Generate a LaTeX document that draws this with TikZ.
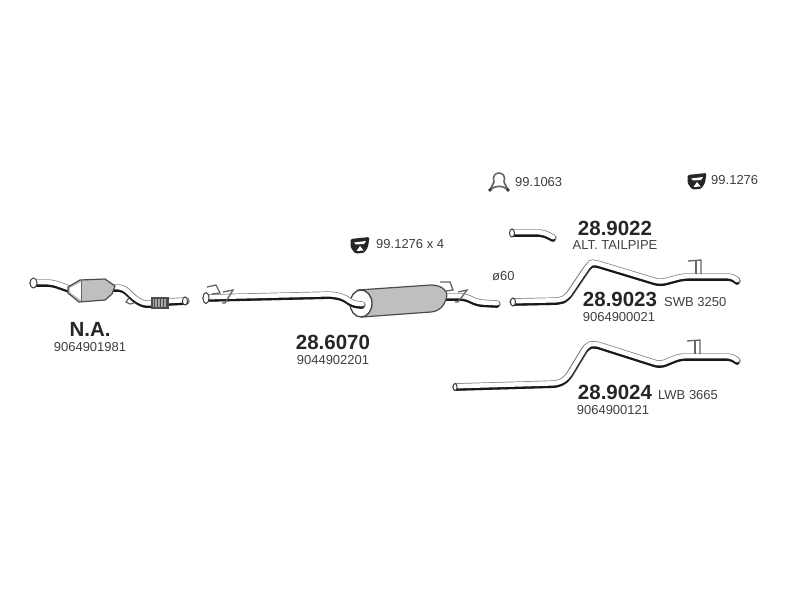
\documentclass[tikz,border=0pt]{standalone}
\usepackage{fontspec}
\setmainfont{Liberation Sans}
\definecolor{edgegray}{gray}{0.5}
\definecolor{bodygray}{gray}{0.75}
\definecolor{labeltext}{gray}{0.25}
\tikzset{
    pipe/.style={line width=7.5pt, draw=edgegray, line cap=round, rounded corners=5pt,
        postaction={draw=black!90, line width=4pt, transform canvas={yshift=-1.8pt}},
        postaction={draw=white, line width=4.5pt, transform canvas={yshift=0.8pt}}},
    thinpart/.style={draw=black!60, line width=1.3pt, fill=none},
    shell/.style={draw=black!70, line width=1.2pt, fill=bodygray},
    partno/.style={font=\fontsize{20.5}{22}\selectfont\bfseries, text=black!85, inner sep=0pt},
    oemno/.style={font=\fontsize{13}{14}\selectfont, text=labeltext, inner sep=0pt},
    flange/.style={draw=black!75, line width=1pt, fill=white}
}
\newcommand{\rubbermount}[1]{
    \begin{scope}[shift={#1}]
        \fill[black!85, rounded corners=1.5pt] (-9.5,-6) -- (9.5,-8) -- (8,2) -- (4,8) -- (-5,8.5) -- (-9.5,2) -- cycle;
        \fill[white] (-6,-2.5) -- (6,-4) -- (4,-1) -- (-4,-0.5) -- cycle;
        \fill[white] (-3.5,6) -- (0,1) -- (3.5,5.5) -- cycle;
    \end{scope}
}
\begin{document}
\begin{tikzpicture}[x=1pt,y=-1pt,node distance=18pt]
    \useasboundingbox (0,0) rectangle (800,600);
    \fill[white] (0,0) rectangle (800,600);

    % catalyst
    \draw[pipe] (33,283) -- (52,283) -- (72,290);
    \draw[pipe] (113,288) -- (123,288) -- (137,301) -- (147,305) -- (156,303);
    \draw[pipe] (166,302) -- (186,301);
    \draw[thinpart] (129,298) -- (126,302) -- (130,304) -- (134,303);
    \draw[shell] (68,287) -- (80,280) -- (105,279) -- (115,286) -- (112,294) -- (105,300) -- (79,302) -- (68,293) -- cycle;
    \fill[white] (70,288) -- (81,282) -- (81,300) -- (70,292) -- cycle;
    \draw[black!60, line width=0.8pt] (81,281) -- (81,301);
    \draw[shell, fill=black!35] (152,298) rectangle (168,308);
    \foreach \hatchx in {154,157,...,167}
        \draw[black!70, line width=0.5pt] (\hatchx,298) -- (\hatchx,308);
    \draw[flange] (33.5,283) ellipse (3.5 and 5);
    \draw[flange] (185,301) ellipse (2.5 and 4);

    % muffler
    \draw[pipe] (445,297) -- (465,297) -- (478,303) -- (497,304);
    \draw[shell] (358,290) -- (431,285) .. controls (443,285) and (449,292) .. (446,299) .. controls (444,306) and (440,311) .. (431,312) -- (362,317) -- cycle;
    \draw[flange, line width=1.3pt] (361,303.5) ellipse (11 and 13.5);
    \draw[pipe] (206,298) -- (333,295) -- (345,298) -- (352,304) -- (362,305);
    \draw[flange] (206,298) ellipse (3 and 5.5);
    \draw[thinpart] (207,287) -- (216,285) -- (220,293) -- (212,294);
    \draw[thinpart] (223,292) -- (233,290) -- (225,303) -- (222,303);
    \draw[thinpart] (440,282) -- (450,282) -- (453,290) -- (446,291);
    \draw[thinpart] (458,292) -- (467,290) -- (458,302) -- (455,302);

    % tailpipes
    \draw[pipe] (513,233) -- (543,233) -- (553,238);
    \draw[flange] (512,233) ellipse (2.5 and 4);
    \draw[pipe] (513,302) -- (560,301) -- (567,298) -- (590,264) -- (594,263) -- (660,283) -- (683,277) -- (733,277) -- (737,281);
    \draw[flange] (513,302) ellipse (2.5 and 4);
    \draw[thinpart] (688,261) -- (701,260) -- (701,274);
    \draw[thinpart] (696,261) -- (696,274);
    \draw[pipe] (456,387) -- (558,384) -- (567,379) -- (587,346) -- (594,344) -- (660,365) -- (680,357) -- (732,357) -- (737,361);
    \draw[flange] (455,387) ellipse (2 and 3.5);
    \draw[thinpart] (687,341) -- (700,340) -- (700,354);
    \draw[thinpart] (695,341) -- (695,354);

    % clamps
    \rubbermount{(360,245)}
    \rubbermount{(697,181)}
    \draw[black!60, line width=1.6pt, line join=round] (490,190) -- (494,182) .. controls (490,170) and (508,170) .. (504,182) -- (508,190) .. controls (503,185) and (495,185) .. (490,190) -- cycle;
    \fill[black!80] (490,190) circle (1.8) (508,190) circle (1.8);

    % labels
    \node[partno] (na) at (90,329) {N.A.};
    \node[oemno] (naoem) [below of=na] {9064901981};
    \node[partno] (mufflerno) at (333,342) {28.6070};
    \node[oemno] (mufflerno2) [below of=mufflerno] {9044902201};
    \node[partno] (altno) at (615,228) {28.9022};
    \node[oemno] (alttext) [below of=altno, yshift=1pt] {ALT. TAILPIPE};
    \node[partno] (swbno) at (620,299) {28.9023};
    \node[oemno] (swboem) [below of=swbno, xshift=-1pt] {9064900021};
    \node[oemno, anchor=west] (swbtext) at (664,302) {SWB 3250};
    \node[partno] (lwbno) at (615,392) {28.9024};
    \node[oemno] (lwboem) [below of=lwbno, xshift=-2pt] {9064900121};
    \node[oemno, anchor=west] (lwbtext) at (658,395) {LWB 3665};
    \node[oemno, anchor=west] (mountfour) at (376,244) {99.1276 x 4};
    \node[oemno, anchor=west] (mountone) at (711,180) {99.1276};
    \node[oemno, anchor=west] (clampone) at (515,182) {99.1063};
    \node[oemno, anchor=west] (diameter) at (492,276) {ø60};
\end{tikzpicture}
\end{document}
